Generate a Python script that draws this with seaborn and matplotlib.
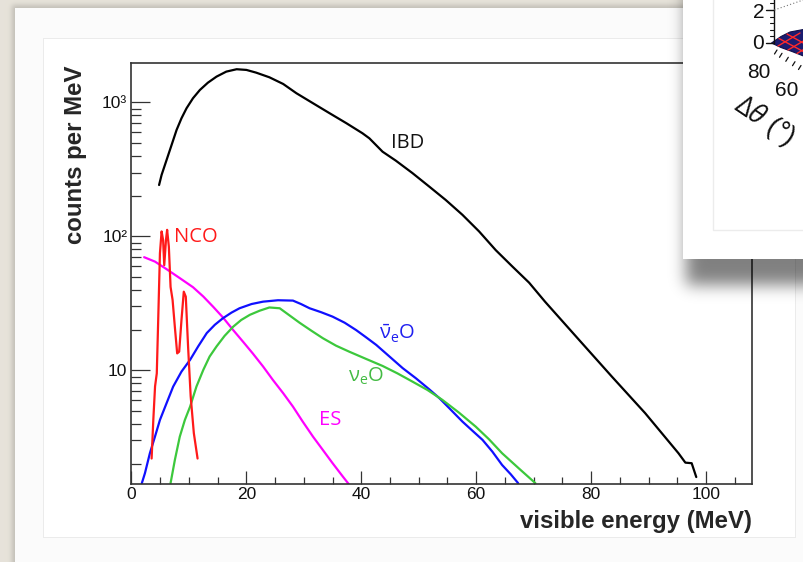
import numpy as np
import matplotlib
matplotlib.use("Agg")
import matplotlib.pyplot as plt
import seaborn as sns
from matplotlib.ticker import (FixedFormatter, FixedLocator, LogLocator,
                               MultipleLocator, NullFormatter)
from matplotlib.patches import Polygon

# ---- spectra: visible energy (MeV) vs counts per MeV ----
ibd_energy = [4.8, 5.24, 5.82, 6.4, 6.98, 7.85, 8.7, 9.58, 10.7, 11.9, 13.3, 14.8,
              16.5, 18.3, 20.0, 21.7, 24.0, 26.4, 28.7, 31.6, 34.5, 37.4, 40.2,
              41.4, 43.7, 46.0, 48.9, 51.8, 54.7, 57.6, 60.5, 63.4, 66.3, 69.2,
              72.0, 77.9, 83.6, 89.4, 95.2, 96.4, 97.5, 98.3]
ibd_counts = [242, 288, 342, 406, 482, 624, 762, 905, 1075, 1239, 1405, 1559,
              1699, 1770, 1749, 1669, 1541, 1374, 1172, 986, 830, 700, 589,
              540, 429, 368, 297, 236, 187, 145, 109, 79, 59.6, 45.2,
              32.5, 16.9, 9.0, 4.8, 2.41, 2.05, 2.03, 1.6]

nco_energy = [3.5, 3.8, 4.1, 4.4, 4.65, 4.95, 5.24, 5.5, 5.7, 6.0, 6.2, 6.5,
              6.8, 7.15, 7.55, 7.95, 8.3, 8.7, 9.1, 9.45, 9.85, 10.3, 10.85, 11.5]
nco_counts = [2.2, 4.3, 7.6, 9.5, 24, 75, 109, 94, 61, 94, 112, 84,
              42, 33.6, 21, 13.4, 13.8, 23.8, 38.7, 35.5, 15, 6.4, 3.4, 2.2]

es_energy = [2.2, 4.08, 6.1, 8.42, 10.7, 12.5, 14.2, 15.9, 17.7, 19.4, 21.1,
             22.9, 24.6, 26.4, 28.1, 29.8, 31.6, 33.3, 35.0, 36.8, 37.8]
es_counts = [70, 64.9, 57, 48.8, 41.8, 35.6, 29.9, 24.9, 20.0, 16.4, 13.4,
             10.7, 8.5, 6.76, 5.37, 4.15, 3.2, 2.55, 2.03, 1.61, 1.42]

anue_o_energy = [1.8, 2.34, 3.2, 4.08, 4.95, 6.1, 7.25, 8.7, 10.2, 11.6, 13.1,
                 14.5, 15.9, 17.4, 18.8, 20.9, 22.9, 25.5, 28.1, 29.5, 31.0,
                 33.0, 35.0, 37.1, 39.1, 40.8, 42.6, 44.9, 47.2, 49.5, 51.8,
                 53.6, 55.3, 57.6, 59.3, 61.1, 62.8, 64.5, 66.0, 67.3]
anue_o_counts = [1.44, 1.71, 2.41, 3.2, 4.27, 5.69, 7.57, 9.8, 12, 15.1, 19,
                 21.9, 24.5, 27, 29.1, 31.3, 32.6, 33.4, 33.2, 31.3, 29.1,
                 27.2, 25.2, 22.7, 20, 17.7, 15.5, 12.7, 10.4, 8.74, 7.24,
                 6.2, 5.23, 4.15, 3.56, 3.03, 2.48, 1.97, 1.68, 1.44]

nue_o_energy = [6.8, 7.55, 8.4, 9.29, 10.2, 11.3, 12.5, 13.6, 14.8, 16.2, 17.7,
                19.1, 20.6, 22.3, 24.0, 25.8, 27.8, 29.25, 31.3, 33.3, 35.6,
                37.9, 40.8, 43.7, 46.3, 48.9, 51.5, 54.1, 57.0, 59.9, 62.2,
                64.5, 67.4, 70.3]
nue_o_counts = [1.44, 2.15, 3.2, 4.27, 5.37, 7.57, 10.1, 12.7, 15.1, 18.1, 21.2,
                23.8, 26, 27.9, 29.5, 29.1, 25.2, 22.7, 19.8, 17.4, 15.3,
                13.8, 12.2, 10.8, 9.5, 8.25, 7.15, 6.03, 4.84, 3.81, 3.07,
                2.41, 1.86, 1.44]

y_tick_values = [10, 100, 1000]
y_tick_labels = ["10", "10\u00b2", "10\u00b3"]

# ---- style ----
sns.set_style("ticks")
plt.rcParams["font.family"] = ["Liberation Sans", "DejaVu Sans"]
plt.rcParams["mathtext.fontset"] = "custom"
plt.rcParams["mathtext.rm"] = "Open Sans"
plt.rcParams["mathtext.it"] = "Open Sans:italic"
plt.rcParams["mathtext.bf"] = "Open Sans:bold"

W, H = 804, 562
fig = plt.figure(figsize=(W / 100, H / 100), dpi=100)


def frac(x0, y0, x1, y1):
    """Pixel box (top-left origin) -> figure fraction rect."""
    return [x0 / W, 1 - y1 / H, (x1 - x0) / W, (y1 - y0) / H]


def gblur(a, s):
    r = int(3 * s) + 1
    k = np.exp(-0.5 * (np.arange(-r, r + 1) / s) ** 2)
    k /= k.sum()
    p = np.pad(a, r, mode="edge")
    p = np.apply_along_axis(lambda v: np.convolve(v, k, mode="valid"), 1, p)
    p = np.apply_along_axis(lambda v: np.convolve(v, k, mode="valid"), 0, p)
    return p


yy, xx = np.mgrid[0:H, 0:W]

# ---- slide backdrop ----
beige = np.array([0.905, 0.890, 0.855])
bg = np.ones((H, W, 3)) * beige
card = (xx >= 15) & (yy >= 8)
card_shade = gblur(((xx >= 12) & (yy >= 5)).astype(float), 2.5)
out = ~card
bg[out] = bg[out] * (1 - 0.16 * card_shade[out])[:, None]
bg[card] = 0.988
panel = (xx >= 43) & (xx <= 795) & (yy >= 38) & (yy <= 537)
bg[panel] = 1.0
edge = panel & ((xx == 43) | (xx == 795) | (yy == 38) | (yy == 537))
bg[edge] = 0.925

bg_ax = fig.add_axes([0, 0, 1, 1], zorder=0)
bg_ax.imshow(bg, extent=(0, W, H, 0), aspect="auto", interpolation="nearest")
bg_ax.set_xlim(0, W)
bg_ax.set_ylim(H, 0)
bg_ax.axis("off")

# ---- main spectrum plot ----
ax = fig.add_axes(frac(131.5, 63, 752, 484), zorder=1)
ax.set_facecolor("white")

series = [
    (ibd_energy, ibd_counts, "#000000"),
    (es_energy, es_counts, "#FF00FF"),
    (anue_o_energy, anue_o_counts, "#1010FF"),
    (nue_o_energy, nue_o_counts, "#3CC83C"),
    (nco_energy, nco_counts, "#FF1A1A"),
]
for e, c, col in series:
    sns.lineplot(x=e, y=c, ax=ax, color=col, lw=1.6, sort=False, estimator=None)

ax.set_yscale("log")
ax.set_xlim(0, 108)
ax.set_ylim(1.42, 1970)

ax.xaxis.set_major_locator(MultipleLocator(20))
ax.xaxis.set_minor_locator(MultipleLocator(5))
ax.yaxis.set_major_locator(FixedLocator(y_tick_values))
ax.yaxis.set_major_formatter(FixedFormatter(y_tick_labels))
ax.yaxis.set_minor_locator(LogLocator(base=10, subs=np.arange(2, 10), numticks=30))
ax.yaxis.set_minor_formatter(NullFormatter())

ax.tick_params(which="both", direction="in", color="#333333", width=0.9,
               labelcolor="#111111", labelsize=12.5, top=False, right=False)
ax.tick_params(axis="y", which="major", length=13.7, pad=3)
ax.tick_params(axis="y", which="minor", length=7.2)
ax.tick_params(axis="x", which="major", length=9.4, pad=2)
ax.tick_params(axis="x", which="minor", length=4.7)
for sp in ax.spines.values():
    sp.set_visible(True)
    sp.set_color("#333333")
    sp.set_linewidth(1.2)

ax.set_xlabel("visible energy (MeV)", fontsize=17.3, fontweight="bold")
ax.xaxis.label.set_ha("right")
ax.xaxis.label.set_va("center")
ax.xaxis.set_label_coords(1.0, (484 - 521.8) / 421)
ax.set_ylabel("counts per MeV", fontsize=17.3, fontweight="bold")
ax.yaxis.label.set_ha("right")
ax.yaxis.label.set_va("center")
ax.yaxis.set_label_coords((76 - 131.5) / 620.5, (484 - 65) / 421)

lab = dict(family="Open Sans", fontsize=14.5, ha="left", va="baseline")
ax.text(45.2, 455, "IBD", color="#111111", **lab)
ax.text(7.43, 91.4, "NCO", color="#FF1A1A", **lab)
ax.text(43.1, 16.9, r"$\mathrm{\bar{\nu}_{e}O}$", color="#2020F0", **lab)
ax.text(37.6, 8.25, r"$\mathrm{\nu_{e}O}$", color="#44BB44", **lab)
ax.text(32.6, 3.92, "ES", color="#FF00FF", **lab)

# ---- drop shadow of the overlapping slide panel ----
sh_mask = ((xx >= 686) & (yy <= 284)).astype(float)
sh_alpha = 0.5 * gblur(sh_mask, 8)
sh = np.zeros((H, W, 4))
sh[..., 3] = sh_alpha
sh_ax = fig.add_axes([0, 0, 1, 1], zorder=2)
sh_ax.imshow(sh, extent=(0, W, H, 0), aspect="auto", interpolation="bilinear")
sh_ax.set_xlim(0, W)
sh_ax.set_ylim(H, 0)
sh_ax.axis("off")

# ---- overlapping panel with a 3D angular histogram ----
ins = fig.add_axes(frac(683.5, 0, 804, 259.3), zorder=3)
ins.set_facecolor("white")
ins.set_xlim(683.5, 804)
ins.set_ylim(259.3, 0)
ins.set_xticks([])
ins.set_yticks([])
for sp in ins.spines.values():
    sp.set_visible(False)

ins.plot([713, 713, 810], [-5, 230, 230], color="#ECECEC", lw=1)
ins.plot([774.3, 774.3], [-5, 43], color="#111111", lw=1)
for ty in (10, 43):
    ins.plot([766, 774.3], [ty, ty], color="#111111", lw=1)
for ty in (3.4, 16.6, 23.2, 29.8, 36.4):
    ins.plot([770.3, 774.3], [ty, ty], color="#111111", lw=0.8)
ins.plot([774.3, 806], [10, -1], color="#777777", lw=0.8, ls=(0, (1, 2)))

ins.add_patch(Polygon([(771.5, 43), (781, 36.5), (790, 32), (806, 29),
                       (806, 57), (792, 51.5), (781, 47.5)],
                      closed=True, fc="#1C1C70", ec="#10104A", lw=0.8))
for (x0, y0, x1, y1) in [(779, 38.5, 806, 53), (787, 34, 806, 44.5),
                         (778, 46, 800, 33), (788, 50, 806, 39.5),
                         (797, 53.5, 806, 48)]:
    ins.plot([x0, x1], [y0, y1], color="#FF2A2A", lw=1)
for (tx, ty) in [(777, 50), (782, 53.3), (788.3, 57.3), (795, 61.7), (801, 65.5)]:
    ins.plot([tx, tx - 2.5], [ty, ty + 4], color="#111111", lw=0.9)

num = dict(family="Liberation Sans", fontsize=15, color="#111111", clip_on=True)
ins.text(765, 12, "2", ha="right", va="center", **num)
ins.text(764, 43.5, "0", ha="right", va="center", **num)
ins.text(759, 73, "80", ha="center", va="center", **num)
ins.text(787, 91, "60", ha="center", va="center", **num)
ins.text(815, 108, "40", ha="center", va="center", **num)
ins.text(765, 121, r"$\Delta\theta$ (°)", ha="center", va="center",
         rotation=-34, rotation_mode="anchor", family="Liberation Sans",
         fontsize=19.5, color="#111111", clip_on=True)

fig.savefig("out.png", dpi=100)
